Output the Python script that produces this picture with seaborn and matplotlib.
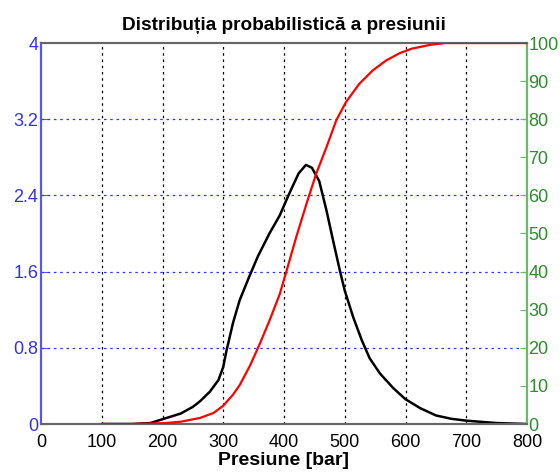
import numpy as np
import pandas as pd
import matplotlib
matplotlib.use("Agg")
import matplotlib.pyplot as plt
import seaborn as sns

# Density curve (left axis)
dens_x = [100, 150, 180, 200, 230, 250, 262, 278, 292, 300, 305, 316, 327, 343, 357, 376,
          393, 408, 424, 436, 446, 458, 470, 481, 492, 500, 514, 528, 541, 558, 580, 600,
          624, 650, 675, 700, 750, 800]
dens_y = [0.0, 0.0, 0.01, 0.05, 0.11, 0.18, 0.24, 0.34, 0.46, 0.60, 0.76, 1.06, 1.30, 1.55,
          1.76, 2.00, 2.19, 2.41, 2.63, 2.72, 2.69, 2.55, 2.24, 1.92, 1.61, 1.40, 1.12, 0.88,
          0.69, 0.53, 0.376, 0.26, 0.167, 0.09, 0.055, 0.035, 0.01, 0.0]

# Cumulative curve (right axis, %)
cdf_x = [100, 150, 200, 230, 262, 284, 300, 316, 327, 344, 360, 376, 393, 404, 420, 437,
         453, 470, 486, 502, 524, 546, 568, 590, 610, 640, 665, 700, 800]
cdf_y = [0.0, 0.0, 0.2, 0.6, 1.6, 2.9, 4.8, 7.7, 10.2, 15.3, 21.0, 27.1, 34.1, 40.1, 49.0,
         57.8, 65.7, 72.7, 79.7, 84.5, 89.3, 92.8, 95.4, 97.3, 98.5, 99.5, 100.0, 100.0, 100.0]

x_ticks = [0, 100, 200, 300, 400, 500, 600, 700, 800]
left_ticks = [0, 0.8, 1.6, 2.4, 3.2, 4]
left_labels = ["0", "0.8", "1.6", "2.4", "3.2", "4"]
right_ticks = [0, 10, 20, 30, 40, 50, 60, 70, 80, 90, 100]

sns.set_style("white")
plt.rcParams['font.family'] = ['Liberation Sans', 'DejaVu Sans']

fig = plt.figure(figsize=(5.6, 4.73), dpi=100)
ax = fig.add_axes([41/560, 1-424/473, (527-41)/560, (424-43)/473])
ax2 = ax.twinx()

dens_df = pd.DataFrame({"x": dens_x, "y": dens_y})
cdf_df = pd.DataFrame({"x": cdf_x, "y": cdf_y})

sns.lineplot(data=dens_df, x="x", y="y", ax=ax, color="black", linewidth=1.8, zorder=3)
sns.lineplot(data=cdf_df, x="x", y="y", ax=ax2, color="red", linewidth=1.6, zorder=3)

ax.set_xlim(0, 800)
ax.set_ylim(0, 4)
ax2.set_ylim(0, 100)
ax.set_xticks(x_ticks)
ax.set_xticklabels([str(t) for t in x_ticks], fontsize=13, color="black")
ax.set_yticks(left_ticks)
ax.set_yticklabels(left_labels, fontsize=13, color="#3333dd")
ax2.set_yticks(right_ticks)
ax2.set_yticklabels([str(t) for t in right_ticks], fontsize=13, color="#2e8b2e")

ax.tick_params(axis="x", direction="in", length=5, color="#333333", pad=7)
ax.tick_params(axis="y", direction="in", length=5, color="#5555ff", pad=2)
ax2.tick_params(axis="y", direction="in", length=5, color="#66bb66", pad=1)

# grids
for xv in x_ticks[1:-1]:
    ax.axvline(xv, color="black", linestyle=(0, (2, 3)), linewidth=0.9, zorder=1)
for yv in left_ticks[1:-1]:
    ax.axhline(yv, color="#3333ff", linestyle=(0, (2, 3)), linewidth=0.9, zorder=1)

for a in (ax, ax2):
    a.spines["top"].set_color("#666666")
    a.spines["bottom"].set_color("#666666")
    a.spines["left"].set_color("#5555ff")
    a.spines["right"].set_color("#66bb66")
    for s in a.spines.values():
        s.set_linewidth(1.5)

ax.set_xlabel("Presiune [bar]", fontsize=14, fontweight="bold", labelpad=1, color="black")
ax.set_ylabel("")
ax2.set_ylabel("")
ax.set_title("Distribuția probabilistică a presiunii", fontsize=13.7, fontweight="bold",
             pad=9, color="black")

fig.savefig("out.png", dpi=100)
